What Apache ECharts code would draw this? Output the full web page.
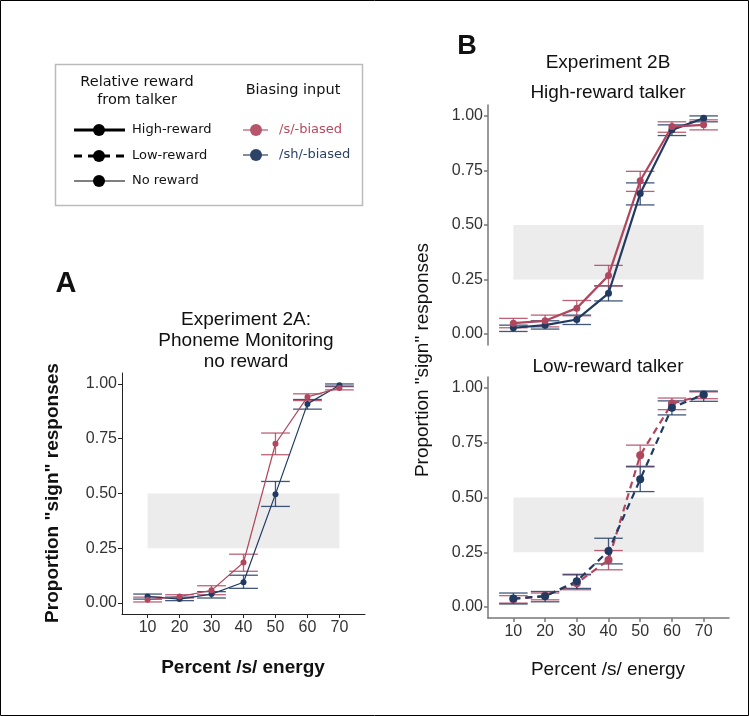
<!DOCTYPE html>
<html>
<head>
<meta charset="utf-8">
<script src="https://cdn.jsdelivr.net/npm/echarts@6/dist/echarts.min.js"></script>
<style>
html, body { margin: 0; padding: 0; background: #fff; }
#main { width: 749px; height: 716px; }
</style>
</head>
<body>
<div id="main"></div>
<script>
// percent /s/ energy steps
var xVals = [10, 20, 30, 40, 50, 60, 70];
var yTicks = [0, 0.25, 0.5, 0.75, 1];

// Experiment 2A, no reward
var aSMean  = [0.015, 0.030, 0.058, 0.185, 0.727, 0.941, 0.982];
var aSLow   = [0.005, 0.023, 0.038, 0.145, 0.677, 0.924, 0.973];
var aSHigh  = [0.027, 0.038, 0.079, 0.223, 0.776, 0.955, 0.991];
var aShMean = [0.030, 0.018, 0.041, 0.095, 0.497, 0.909, 0.994];
var aShLow  = [0.018, 0.011, 0.023, 0.067, 0.441, 0.885, 0.988];
var aShHigh = [0.041, 0.027, 0.052, 0.127, 0.555, 0.929, 1.000];

// Experiment 2B, high-reward talker
var hSMean  = [0.050, 0.061, 0.119, 0.269, 0.703, 0.951, 0.959];
var hSLow   = [0.029, 0.033, 0.084, 0.221, 0.654, 0.925, 0.936];
var hSHigh  = [0.072, 0.087, 0.154, 0.315, 0.746, 0.973, 0.982];
var hShMean = [0.029, 0.041, 0.067, 0.187, 0.644, 0.936, 0.989];
var hShLow  = [0.012, 0.023, 0.044, 0.152, 0.592, 0.910, 0.973];
var hShHigh = [0.041, 0.061, 0.087, 0.221, 0.693, 0.959, 1.000];

// Experiment 2B, low-reward talker
var lSMean  = [0.036, 0.052, 0.109, 0.215, 0.693, 0.929, 0.967];
var lSLow   = [0.018, 0.033, 0.079, 0.170, 0.643, 0.901, 0.951];
var lSHigh  = [0.052, 0.064, 0.150, 0.258, 0.739, 0.954, 0.982];
var lShMean = [0.039, 0.049, 0.118, 0.256, 0.583, 0.910, 0.970];
var lShLow  = [0.014, 0.024, 0.085, 0.197, 0.527, 0.877, 0.939];
var lShHigh = [0.064, 0.071, 0.147, 0.314, 0.640, 0.941, 0.986];

// shaded band
var bandX = [10, 70];
var bandY = [0.25, 0.5];

var RED = '#b0475f';
var NAVY = '#213a62';
var FONT = '"Liberation Sans", Arial, sans-serif';
var capHalf = 4.5;

var myChart = echarts.init(document.getElementById('main'));

var pts = function (means) {
    return xVals.map(function (x, i) { return [x, means[i]]; });
};
var bars = function (low, high) {
    return xVals.map(function (x, i) { return [x, low[i], high[i]]; });
};

var errRender = function (color, w) {
    return function (params, api) {
        var x = api.value(0), lo = api.value(1), hi = api.value(2);
        var t = api.coord([x, hi]), b = api.coord([x, lo]);
        var tl = api.coord([x - capHalf, hi]), tr = api.coord([x + capHalf, hi]);
        var bl = api.coord([x - capHalf, lo]), br = api.coord([x + capHalf, lo]);
        var st = { stroke: color, lineWidth: w, opacity: 0.85 };
        return {
            type: 'group',
            children: [
                { type: 'line', shape: { x1: t[0], y1: t[1], x2: b[0], y2: b[1] }, style: st },
                { type: 'line', shape: { x1: tl[0], y1: tl[1], x2: tr[0], y2: tr[1] }, style: st },
                { type: 'line', shape: { x1: bl[0], y1: bl[1], x2: br[0], y2: br[1] }, style: st }
            ]
        };
    };
};

var errSeries = function (idx, low, high, color, w) {
    return {
        type: 'custom', xAxisIndex: idx, yAxisIndex: idx,
        renderItem: errRender(color, w),
        encode: { x: 0, y: [1, 2] },
        data: bars(low, high),
        silent: true, z: 3
    };
};

var lineSeries = function (idx, means, color, w, dashed, size) {
    return {
        type: 'line', xAxisIndex: idx, yAxisIndex: idx,
        data: pts(means),
        symbol: 'circle', symbolSize: size, showSymbol: true,
        itemStyle: { color: color },
        lineStyle: { color: color, width: w, type: dashed ? [7, 5] : 'solid' },
        silent: true, z: 4, animation: false
    };
};

var bandSeries = function (idx) {
    return {
        type: 'line', xAxisIndex: idx, yAxisIndex: idx, data: [],
        markArea: {
            silent: true,
            itemStyle: { color: '#ececec' },
            data: [[{ coord: [bandX[0], bandY[0]] }, { coord: [bandX[1], bandY[1]] }]]
        }
    };
};

var mkX = function (idx, show, axisColor, lw) {
    return {
        type: 'value', gridIndex: idx, min: 2, max: 78,
        axisLine: { show: show, onZero: false, lineStyle: { color: axisColor, width: lw } },
        axisTick: { show: show, length: 4, customValues: xVals, lineStyle: { color: axisColor, width: lw } },
        axisLabel: { show: show, customValues: xVals, color: '#333', fontSize: 16, fontFamily: FONT, margin: 6 },
        splitLine: { show: false }
    };
};
var mkY = function (idx, axisColor, lw) {
    return {
        type: 'value', gridIndex: idx, min: -0.05, max: 1.05,
        axisLine: { show: true, lineStyle: { color: axisColor, width: lw } },
        axisTick: { show: true, length: 4, customValues: yTicks, lineStyle: { color: axisColor, width: lw } },
        axisLabel: {
            customValues: yTicks, color: '#333', fontSize: 16, fontFamily: FONT, margin: 5,
            formatter: function (v) { return v.toFixed(2); }
        },
        splitLine: { show: false }
    };
};

var txt = function (x, y, s, size, weight, extra) {
    var o = {
        type: 'text', x: x, y: y, z: 10,
        style: {
            text: s, fontSize: size, fontWeight: weight || 'normal', fontFamily: FONT,
            fill: '#111', textAlign: 'center', textVerticalAlign: 'middle'
        }
    };
    if (extra) { for (var k in extra) o[k] = extra[k]; }
    return o;
};

var LF = '"DejaVu Sans", sans-serif';
var legTxt = function (x, y, s, color, align, size) {
    return {
        type: 'text', x: x, y: y, z: 10,
        style: { text: s, fontSize: size || 13, fontFamily: LF, fill: color || '#111', textAlign: align || 'left', textVerticalAlign: 'middle' }
    };
};
var legLine = function (x1, x2, y, color, w, dash) {
    return { type: 'line', z: 10, shape: { x1: x1, y1: y, x2: x2, y2: y }, style: { stroke: color, lineWidth: w, lineDash: dash || null } };
};
var legDot = function (x, y, color) {
    return { type: 'circle', z: 11, shape: { cx: x, cy: y, r: 6 }, style: { fill: color } };
};

var option = {
    animation: false,
    grid: [
        { left: 122, top: 373, width: 243, height: 241 },
        { left: 488, top: 105, width: 241, height: 240 },
        { left: 488, top: 377, width: 241, height: 241 }
    ],
    xAxis: [mkX(0, true, '#222', 1), mkX(1, false, '#777', 1.5), mkX(2, true, '#777', 1.5)],
    yAxis: [mkY(0, '#222', 1), mkY(1, '#777', 1.5), mkY(2, '#777', 1.5)],
    series: [
        bandSeries(0), bandSeries(1), bandSeries(2),
        errSeries(0, aShLow, aShHigh, NAVY, 1.3),
        errSeries(0, aSLow, aSHigh, RED, 1.3),
        lineSeries(0, aShMean, NAVY, 1.2, false, 6),
        lineSeries(0, aSMean, RED, 1.2, false, 6),
        errSeries(1, hShLow, hShHigh, NAVY, 1.3),
        errSeries(1, hSLow, hSHigh, RED, 1.3),
        lineSeries(1, hShMean, NAVY, 2.2, false, 7),
        lineSeries(1, hSMean, RED, 2.2, false, 7),
        errSeries(2, lSLow, lSHigh, RED, 1.3),
        errSeries(2, lShLow, lShHigh, NAVY, 1.3),
        lineSeries(2, lSMean, RED, 2.2, true, 8),
        lineSeries(2, lShMean, NAVY, 2.2, true, 8)
    ],
    graphic: [
        { type: 'rect', shape: { x: 0.5, y: 0.5, width: 748, height: 715 }, style: { fill: null, stroke: '#000', lineWidth: 1 } },
        // panel A
        txt(66, 284, 'A', 29, 'bold'),
        txt(246, 320, 'Experiment 2A:', 19),
        txt(246, 341, 'Phoneme Monitoring', 19),
        txt(246, 362, 'no reward', 19),
        txt(53, 493, 'Proportion "sign" responses', 19, 'bold', { rotation: Math.PI / 2 }),
        txt(243, 668, 'Percent /s/ energy', 19, 'bold'),
        // panel B
        txt(467, 47, 'B', 27, 'bold'),
        txt(608, 63, 'Experiment 2B', 19),
        txt(608, 93, 'High-reward talker', 19),
        txt(608, 367, 'Low-reward talker', 19),
        txt(423, 360, 'Proportion "sign" responses', 19, 'normal', { rotation: Math.PI / 2 }),
        txt(608, 670, 'Percent /s/ energy', 19),
        // legend box
        { type: 'rect', z: 9, shape: { x: 55.5, y: 64.5, width: 307, height: 141 }, style: { fill: '#fff', stroke: '#bbb', lineWidth: 1.5 } },
        legTxt(137, 82, 'Relative reward', '#111', 'center', 14.5),
        legTxt(137, 100, 'from talker', '#111', 'center', 14.5),
        legLine(74, 125, 130, '#000', 3), legDot(99, 130, '#000'),
        legLine(74, 125, 156, '#000', 3, [8, 6]), legDot(99, 156, '#000'),
        legLine(74, 125, 181, '#000', 1.2), legDot(99, 181, '#000'),
        legTxt(132, 130, 'High-reward'),
        legTxt(132, 156, 'Low-reward'),
        legTxt(132, 181, 'No reward'),
        legTxt(293, 90, 'Biasing input', '#111', 'center', 14.5),
        legLine(243, 268, 130, '#b5566b', 1.2), legDot(256, 130, '#b5566b'),
        legLine(243, 268, 155, '#2c4266', 1.2), legDot(256, 155, '#2c4266'),
        legTxt(279, 130, '/s/-biased', '#b5495f'),
        legTxt(279, 155, '/sh/-biased', '#2a3f66')
    ]
};
myChart.setOption(option);
</script>
</body>
</html>
